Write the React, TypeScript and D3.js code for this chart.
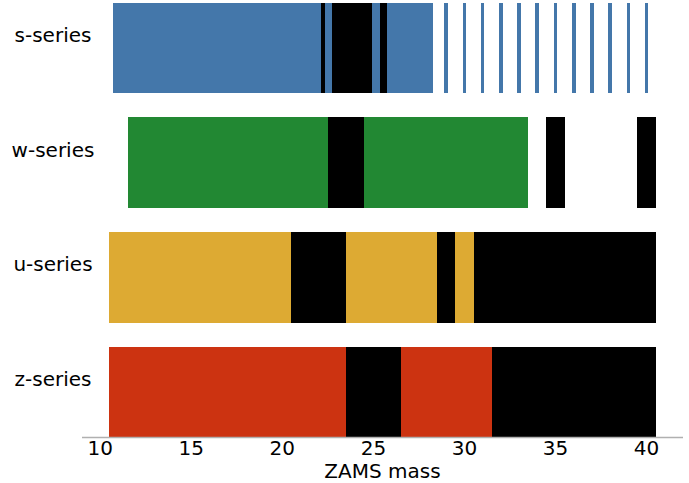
import React from "react";
import * as d3 from "d3";

const seriesNames = ["s-series", "w-series", "u-series", "z-series"];
const seriesColors = ["#4477AA", "#228833", "#DDAA33", "#CC3311"];
const xTicks = [10, 15, 20, 25, 30, 35, 40];

// s-series: dense mass grid, given as contiguous outcome intervals
const sFineStart = [10.7, 22.15, 22.35, 22.75, 24.95, 25.35, 25.75];
const sFineEnd = [22.15, 22.35, 22.75, 24.95, 25.35, 25.75, 28.3];
const sFineOutcome = ["E", "B", "E", "B", "E", "B", "E"];
// s-series: sparse masses
const sSparseMasses = [29, 30, 31, 32, 33, 34, 35, 36, 37, 38, 39, 40];
const sSparseOutcome = ["E", "E", "E", "E", "E", "E", "E", "E", "E", "E", "E", "E"];

const wMasses = [12, 13, 14, 15, 16, 17, 18, 19, 20, 21, 22, 23, 24, 25, 26, 27, 28, 29, 30, 31, 32, 33, 35, 40];
const wOutcome = ["E", "E", "E", "E", "E", "E", "E", "E", "E", "E", "E", "B", "B", "E", "E", "E", "E", "E", "E", "E", "E", "E", "B", "B"];

const uMasses = [11, 12, 13, 14, 15, 16, 17, 18, 19, 20, 21, 22, 23, 24, 25, 26, 27, 28, 29, 30, 31, 32, 33, 34, 35, 36, 37, 38, 39, 40];
const uOutcome = ["E", "E", "E", "E", "E", "E", "E", "E", "E", "E", "B", "B", "B", "E", "E", "E", "E", "E", "B", "E", "B", "B", "B", "B", "B", "B", "B", "B", "B", "B"];

const zMasses = [11, 12, 13, 14, 15, 16, 17, 18, 19, 20, 21, 22, 23, 24, 25, 26, 27, 28, 29, 30, 31, 32, 33, 34, 35, 36, 37, 38, 39, 40];
const zOutcome = ["E", "E", "E", "E", "E", "E", "E", "E", "E", "E", "E", "E", "E", "B", "B", "B", "E", "E", "E", "E", "E", "B", "B", "B", "B", "B", "B", "B", "B", "B"];

type Bar = { series: number; x0: number; x1: number; outcome: string };

function buildBars(): Bar[] {
  const bars: Bar[] = [];
  sFineStart.forEach((s, i) => bars.push({ series: 0, x0: s, x1: sFineEnd[i], outcome: sFineOutcome[i] }));
  sSparseMasses.forEach((m, i) => bars.push({ series: 0, x0: m - 0.1, x1: m + 0.1, outcome: sSparseOutcome[i] }));
  const integerSeries: [number[], string[]][] = [
    [wMasses, wOutcome],
    [uMasses, uOutcome],
    [zMasses, zOutcome],
  ];
  integerSeries.forEach(([ms, os], k) => {
    ms.forEach((m, i) => bars.push({ series: k + 1, x0: m - 0.5, x1: m + 0.5, outcome: os[i] }));
  });
  return bars;
}

export default function App() {
  const W = 689;
  const H = 483;
  const x = d3.scaleLinear().domain([9, 42]).range([82, 683]);
  const y = d3
    .scaleBand<string>()
    .domain(seriesNames)
    .range([2.5, 437.5])
    .paddingInner(0.207)
    .paddingOuter(0);
  const bars = buildBars();
  const font = "DejaVu Sans, sans-serif";
  const axisY = 437.5;

  return (
    <svg
      width={W}
      height={H}
      style={{ position: "absolute", left: 0, top: 0, background: "#fff" }}
      fontFamily={font}
    >
      <rect x={0} y={0} width={W} height={H} fill="#fff" />
      {bars.map((b, i) => {
        const name = seriesNames[b.series];
        const fill = b.outcome === "B" ? "#000" : seriesColors[b.series];
        return (
          <rect
            key={i}
            x={x(b.x0)}
            y={y(name)!}
            width={x(b.x1) - x(b.x0)}
            height={y.bandwidth()}
            fill={fill}
            shapeRendering="crispEdges"
          />
        );
      })}
      <line x1={82} x2={683} y1={axisY} y2={axisY} stroke="#b0b0b0" strokeWidth={1.3} />
      {xTicks.map((t) => (
        <text key={t} x={x(t)} y={455} textAnchor="middle" fontSize={20} fill="#000">
          {t}
        </text>
      ))}
      <text x={x(25.5)} y={478} textAnchor="middle" fontSize={20} fill="#000">
        ZAMS mass
      </text>
      {seriesNames.map((n) => (
        <text key={n} x={53} y={y(n)! + y.bandwidth() / 2 - 6} textAnchor="middle" fontSize={20} fill="#000">
          {n}
        </text>
      ))}
    </svg>
  );
}
